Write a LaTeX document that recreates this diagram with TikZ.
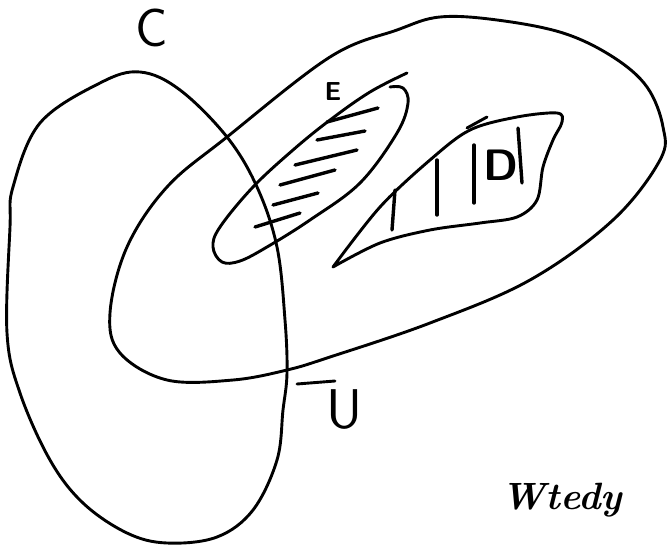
\documentclass[tikz,border=0pt]{standalone}
\begin{document}
\begin{tikzpicture}[x=1pt,y=-1pt,
  ink/.style={line width=2.9pt,line cap=round,line join=round,black},
  hatch/.style={line width=3.4pt,line cap=round,black},
  lbl/.style={inner sep=0pt,font=\sffamily}]
\useasboundingbox (0,0) rectangle (668,548);
% region C (left oval)
\draw[ink] plot[smooth cycle,tension=0.6] coordinates {(140,72) (180,90) (227,137) (257,187) (277,247) (285,320) (287,373) (283,410) (277,460) (253,510) (217,537) (167,543) (127,533) (83,503) (50,460) (20,393) (7,333) (10,227) (13,187) (40,123) (100,83)};
% region U (large outer)
\draw[ink] plot[smooth cycle,tension=0.6] coordinates {(330,57) (397,30) (440,17) (497,20) (563,33) (613,57) (647,87) (663,127) (660,160) (613,220) (530,280) (430,323) (330,357) (287,370) (233,380) (167,380) (120,353) (110,313) (127,247) (167,187) (227,137)};
% region E
\draw[ink] plot[smooth,tension=0.6] coordinates {(407,73) (370,92) (330,120) (293,150) (253,187) (220,227) (213,247) (222,262) (240,261) (267,247) (310,220) (360,183) (397,133) (408,103) (403,88) (390,87)};
% hatching in E
\draw[hatch] (327,122) -- (378,108);
\draw[hatch] (317,140) -- (365,131);
\draw[hatch] (295,165) -- (357,150);
\draw[hatch] (280,185) -- (335,170);
\draw[hatch] (273,205) -- (318,193);
\draw[hatch] (255,227) -- (300,213);
% region D
\draw[ink] plot[smooth,tension=0.55] coordinates {(333,267) (380,207) (430,160) (470,130) (517,117) (557,113) (562,122) (553,140) (543,167) (537,200) (517,217) (480,223) (430,230) (380,243) (333,267)};
\draw[ink] (487,117) -- (467,128);
% hatching in D
\draw[hatch] (395,190) -- (392,230);
\draw[hatch] (437,160) -- (437,215);
\draw[hatch] (474,145) -- (474,203);
\draw[hatch] (518,128) -- (522,183);
% labels
\node[lbl,font=\sffamily\fontsize{54}{54}\selectfont] (lc) at (152,28) {C};
\node[lbl,font=\sffamily\bfseries\fontsize{26}{26}\selectfont] (le) at (333,92) {E};
\node[lbl,font=\sffamily\bfseries\fontsize{44}{44}\selectfont] (ld) at (501,165) {D};
\node[lbl,font=\sffamily\fontsize{56}{56}\selectfont] (lu) at (345,410) {U};
\draw[ink] (297,384) -- (335,381);
\node[lbl,font=\bfseries\itshape\fontsize{38}{38}\selectfont] (sig) at (562,500) {Wtedy};
\end{tikzpicture}
\end{document}
